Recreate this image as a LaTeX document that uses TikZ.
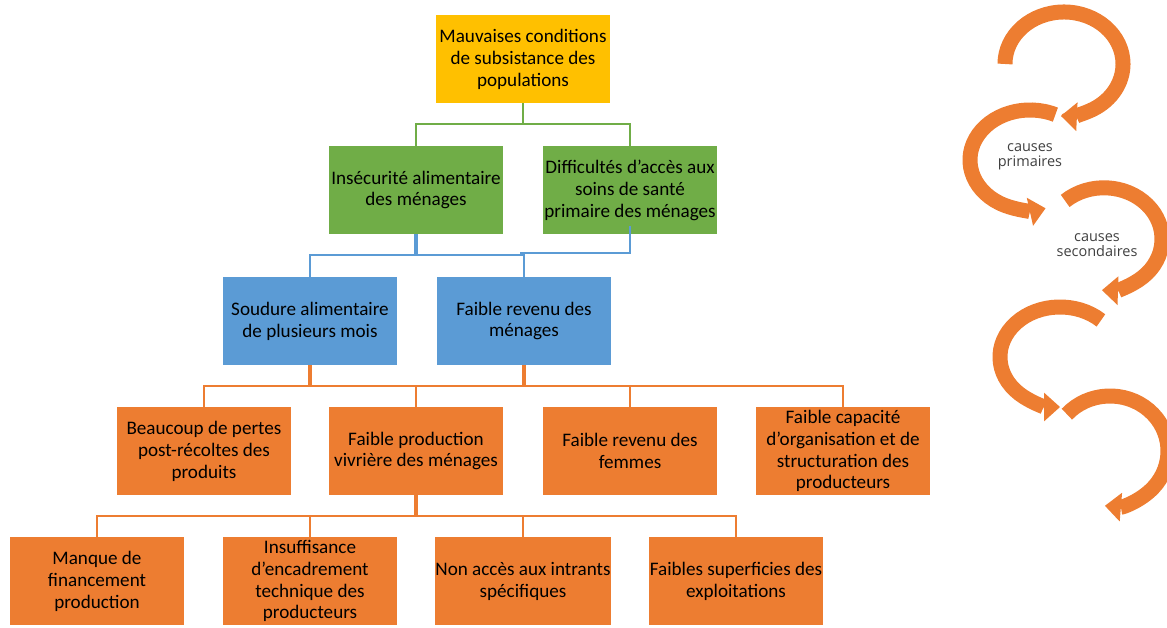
\documentclass[tikz,border=0pt]{standalone}
\usepackage{fontspec}
\setmainfont{Carlito}
\newfontfamily\sidefont{Open Sans}
\usetikzlibrary{positioning, arrows.meta, calc}

\definecolor{boxyellow}{HTML}{FFC000}
\definecolor{boxgreen}{HTML}{70AD47}
\definecolor{boxblue}{HTML}{5B9BD5}
\definecolor{boxorange}{HTML}{ED7D31}
\definecolor{labelgray}{HTML}{404040}

\begin{document}
\begin{tikzpicture}[
		x=0.025cm, y=0.025cm,
		cause/.style={minimum width=4.325cm, minimum height=2.2cm, inner sep=0pt, align=center, font=\fontsize{13.6}{15.6}\selectfont},
		topcause/.style={cause, fill=boxyellow},
		maincause/.style={cause, fill=boxgreen},
		midcause/.style={cause, fill=boxblue},
		lowcause/.style={cause, fill=boxorange},
		greenline/.style={draw=boxgreen, line width=1.3pt},
		blueline/.style={draw=boxblue, line width=1.3pt},
		orangeline/.style={draw=boxorange, line width=1.3pt},
		curly/.style={draw=boxorange, line width=0.375cm, -{Triangle[width=0.72cm, length=0.4cm, line width=0pt]}},
		sidelabel/.style={align=center, font=\sidefont\fontsize{10.3}{11}\selectfont, text=labelgray}
		]
		
		\useasboundingbox (0,0) rectangle (1167,-628);
		
		% ==========================================
		% 1. TREE OF CAUSES
		% ==========================================
		\node[topcause] (top) at (523,-59) {Mauvaises conditions\\de subsistance des\\populations};
		
		\node[maincause] (g1) at (416,-190) {Insécurité alimentaire\\des ménages};
		\node[maincause] (g2) at (630,-190) {Difficultés d’accès aux\\soins de santé\\primaire des ménages};
		
		\node[midcause] (b1) at (310,-321) {Soudure alimentaire\\de plusieurs mois};
		\node[midcause] (b2) at (524,-321) {Faible revenu des\\ménages};
		
		\node[lowcause] (o1) at (204,-451) {Beaucoup de pertes\\post-récoltes des\\produits};
		\node[lowcause] (o2) at (416,-451) {Faible production\\vivrière des ménages};
		\node[lowcause] (o3) at (630,-451) {Faible revenu des\\femmes};
		\node[lowcause] (o4) at (843,-451) {Faible capacité\\d’organisation et de\\structuration des\\producteurs};
		
		\node[lowcause] (p1) at (97,-581) {Manque de\\financement\\production};
		\node[lowcause] (p2) at (310,-581) {Insuffisance\\d’encadrement\\technique des\\producteurs};
		\node[lowcause] (p3) at (523,-581) {Non accès aux intrants\\spécifiques};
		\node[lowcause] (p4) at (736,-581) {Faibles superficies des\\exploitations};
		
		% green links
		\draw[greenline] (top.south) -- ++(0,-21) coordinate (jtop);
		\draw[greenline] (g1.north) -- (g1.north |- jtop) -- (g2.north |- jtop) -- (g2.north);
		
		% blue links
		\draw[blueline, line width=2.2pt] (g1.south) -- ++(0,-21) coordinate (jmid);
		\draw[blueline] (b1.north) -- (b1.north |- jmid) -- (b2.north |- jmid) -- (b2.north);
		\draw[blueline] ([yshift=0.2cm]g2.south) |- ([xshift=-0.1cm, yshift=0.05cm]b2.north |- jmid);
		
		% orange links
		\draw[orangeline, line width=2.6pt] (b1.south) -- ++(0,-21) coordinate (jlow);
		\draw[orangeline, line width=2.2pt] (b2.south) -- (b2.south |- jlow);
		\draw[orangeline] (o1.north) -- (o1.north |- jlow) -- (o4.north |- jlow) -- (o4.north);
		\draw[orangeline] (o2.north) -- (o2.north |- jlow);
		\draw[orangeline] (o3.north) -- (o3.north |- jlow);
		
		\draw[orangeline, line width=2.2pt] (o2.south) -- ++(0,-21) coordinate (jbot);
		\draw[orangeline] (p1.north) -- (p1.north |- jbot) -- (p4.north |- jbot) -- (p4.north);
		\draw[orangeline] (p2.north) -- (p2.north |- jbot);
		\draw[orangeline] (p3.north) -- (p3.north |- jbot);
		
		% ==========================================
		% 2. CURLED ARROWS ON THE RIGHT
		% ==========================================
		\coordinate (c1) at (1064,-64);
		\coordinate (c2) at (1030,-160);
		\coordinate (c3) at (1104,-239);
		\coordinate (c4) at (1060,-357);
		\coordinate (c5) at (1110,-451);
		
		\draw[curly] ($(c1)+(180:1.475cm and 1.3cm)$) arc[start angle=180, end angle=-93, x radius=1.475cm, y radius=1.3cm];
		\draw[curly] ($(c2)+(65:1.5cm and 1.25cm)$) arc[start angle=65, end angle=285, x radius=1.5cm, y radius=1.25cm];
		\draw[curly] ($(c3)+(132:1.45cm and 1.28cm)$) arc[start angle=132, end angle=-92, x radius=1.45cm, y radius=1.28cm];
		\draw[curly] ($(c4)+(47:1.5cm and 1.25cm)$) arc[start angle=47, end angle=270, x radius=1.5cm, y radius=1.25cm];
		\draw[curly] ($(c5)+(138:1.45cm and 1.375cm)$) arc[start angle=138, end angle=-95, x radius=1.45cm, y radius=1.375cm];
		
		\node[sidelabel] (primlab) at (1030,-157) {causes\\primaires};
		\node[sidelabel] (seclab) at (1097,-245) {causes\\secondaires};
		
	\end{tikzpicture}
\end{document}
